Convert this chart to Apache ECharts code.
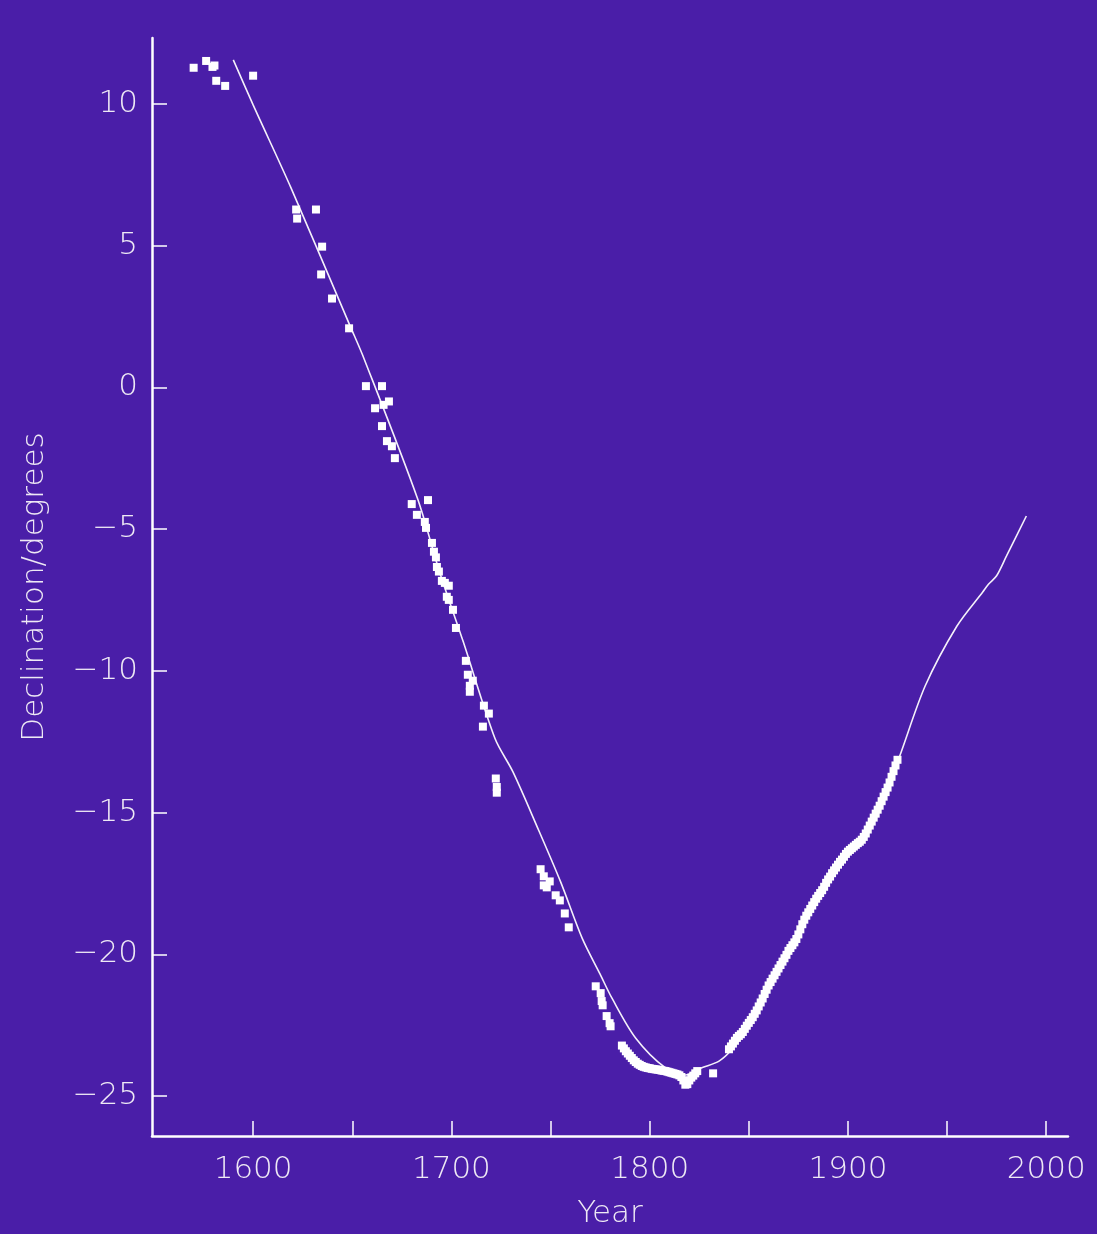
<!DOCTYPE html>
<html>
<head>
<meta charset="utf-8">
<script src="https://cdn.jsdelivr.net/npm/echarts@6/dist/echarts.min.js"></script>
<style>
html,body{margin:0;padding:0;background:#4a1ea8;}
#chart{width:1097px;height:1234px;}
</style>
</head>
<body>
<div id="chart"></div>
<script>
// ---- Data ----
const xTickValues = [1600, 1650, 1700, 1750, 1800, 1850, 1900, 1950, 2000];
const xLabelValues = [1600, 1700, 1800, 1900, 2000];
const yTickValues = [10, 5, 0, -5, -10, -15, -20, -25];

// Modelled declination curve
const lineYears = [1590, 1600, 1619, 1649, 1656, 1683, 1694, 1706, 1722, 1731, 1743, 1755, 1766, 1775, 1781, 1793, 1808, 1818, 1826, 1835, 1842, 1850, 1860, 1870, 1880, 1890, 1900, 1910, 1920, 1926, 1939, 1955, 1968, 1971, 1975, 1980, 1990];
const lineDecs  = [11.55, 9.96, 7.05, 2.15, 1.0, -3.94, -6.51, -8.98, -12.39, -13.56, -15.46, -17.43, -19.44, -20.7, -21.55, -22.96, -24.01, -24.26, -24.01, -23.77, -23.31, -22.45, -21.1, -19.88, -18.52, -17.36, -16.38, -15.6, -14.12, -13.03, -10.53, -8.42, -7.22, -6.94, -6.65, -5.95, -4.54];

// Observations
const obsYears = [
  1570, 1576.3, 1579.5, 1580.5, 1581.4, 1585.9, 1600, 1621.7, 1622.2, 1631.7, 1634.8, 1634.3, 1639.8, 1648.4,
  1656.9, 1665, 1661.5, 1668.5, 1665.8, 1665, 1667.5, 1670, 1671.5, 1688.2, 1680, 1682.6, 1686.6, 1687.2,
  1690.2, 1691.2, 1692.2, 1692.7, 1693.7, 1695.2, 1696.7, 1698.7, 1697.7, 1698.7, 1700.8, 1702.3, 1707.3,
  1708.3, 1710.8, 1709.3, 1709.3, 1716.4, 1718.9, 1715.9, 1722.4, 1722.9, 1722.9,
  1745, 1746.6, 1749.6, 1746.6, 1748.1, 1752.6, 1754.7, 1757.2, 1759.2,
  1772.8, 1775.3, 1775.8, 1776.3, 1778.3, 1779.8, 1780.3,
  1786, 1787, 1788, 1789, 1790, 1791, 1792, 1793, 1794, 1795, 1796, 1797, 1798, 1799, 1800,
  1801, 1802, 1803, 1804, 1805, 1806, 1807, 1808, 1809, 1810, 1811, 1812, 1813, 1814, 1815,
  1816, 1817, 1818, 1819, 1820, 1821, 1822, 1823, 1824, 1832,
  1840, 1841, 1842, 1843, 1844, 1845, 1846, 1847, 1848, 1849, 1850,
  1851, 1852, 1853, 1854, 1855, 1856, 1857, 1858, 1859, 1860,
  1861, 1862, 1863, 1864, 1865, 1866, 1867, 1868, 1869, 1870,
  1871, 1872, 1873, 1874, 1875, 1876, 1877, 1878, 1879, 1880,
  1881, 1882, 1883, 1884, 1885, 1886, 1887, 1888, 1889, 1890,
  1891, 1892, 1893, 1894, 1895, 1896, 1897, 1898, 1899, 1900,
  1901, 1902, 1903, 1904, 1905, 1906, 1907, 1908, 1909, 1910,
  1911, 1912, 1913, 1914, 1915, 1916, 1917, 1918, 1919, 1920,
  1921, 1922, 1923, 1924, 1925
];
const obsDecs = [
  11.27, 11.51, 11.30, 11.35, 10.81, 10.63, 10.99, 6.27, 5.95, 6.27, 4.96, 3.98, 3.13, 2.08,
  0.04, 0.04, -0.74, -0.5, -0.62, -1.37, -1.9, -2.08, -2.5, -3.98, -4.12, -4.5, -4.75, -4.96,
  -5.49, -5.8, -6.0, -6.34, -6.5, -6.83, -6.9, -7.0, -7.39, -7.5, -7.85, -8.49, -9.65,
  -10.14, -10.35, -10.53, -10.74, -11.23, -11.51, -11.97, -13.8, -14.1, -14.3,
  -17.0, -17.25, -17.43, -17.57, -17.64, -17.92, -18.1, -18.56, -19.05,
  -21.13, -21.37, -21.65, -21.8, -22.18, -22.43, -22.54,
  -23.22, -23.32, -23.42, -23.50, -23.58, -23.66, -23.74, -23.80, -23.86, -23.90, -23.94, -23.97, -23.99, -24.01, -24.02,
  -24.04, -24.05, -24.06, -24.07, -24.08, -24.10, -24.11, -24.12, -24.14, -24.16, -24.18, -24.20, -24.22, -24.24, -24.27,
  -24.33, -24.45, -24.60, -24.58, -24.45, -24.35, -24.28, -24.20, -24.12, -24.20,
  -23.35, -23.25, -23.15, -23.05, -22.95, -22.88, -22.82, -22.74, -22.63, -22.52, -22.42,
  -22.32, -22.22, -22.10, -21.98, -21.84, -21.70, -21.56, -21.40, -21.25, -21.10,
  -20.98, -20.86, -20.74, -20.62, -20.50, -20.38, -20.26, -20.14, -20.02, -19.88,
  -19.78, -19.68, -19.58, -19.46, -19.30, -19.12, -18.94, -18.78, -18.64, -18.52,
  -18.40, -18.28, -18.16, -18.04, -17.94, -17.84, -17.74, -17.62, -17.48, -17.36,
  -17.26, -17.14, -17.04, -16.94, -16.84, -16.74, -16.66, -16.56, -16.46, -16.38,
  -16.32, -16.26, -16.20, -16.14, -16.08, -16.03, -15.96, -15.86, -15.74, -15.60,
  -15.46, -15.32, -15.18, -15.04, -14.90, -14.76, -14.60, -14.44, -14.28, -14.12,
  -13.94, -13.74, -13.54, -13.34, -13.14
];

// ---- Chart ----
const textColor = '#eee9f5';
const fontFamily = "'DejaVu Sans', sans-serif";
const chart = echarts.init(document.getElementById('chart'), null, {renderer: 'canvas'});
chart.setOption({
  animation: false,
  backgroundColor: '#4a1ea8',
  grid: {left: 152, right: 29, top: 38, bottom: 96, containLabel: false},
  xAxis: {
    type: 'value', min: 1549, max: 2011,
    name: 'Year', nameLocation: 'middle', nameGap: 62,
    nameTextStyle: {color: textColor, fontSize: 31, fontFamily: fontFamily, fontWeight: 200},
    axisLine: {show: true, onZero: false, lineStyle: {color: '#ffffff', width: 2.5}},
    axisTick: {show: true, inside: true, length: 15, customValues: xTickValues, lineStyle: {color: '#ffffff', width: 1.5}},
    axisLabel: {show: true, customValues: xLabelValues, margin: 18, color: textColor, fontSize: 31, fontFamily: fontFamily, fontWeight: 200,
      formatter: v => String(v)},
    splitLine: {show: false}
  },
  yAxis: {
    type: 'value', min: -26.41, max: 12.32,
    name: 'Declination/degrees', nameLocation: 'middle', nameRotate: 90, nameGap: 102,
    nameTextStyle: {color: textColor, fontSize: 31, fontFamily: fontFamily, fontWeight: 200},
    axisLine: {show: true, onZero: false, lineStyle: {color: '#ffffff', width: 2.5}},
    axisTick: {show: true, inside: true, length: 15, customValues: yTickValues, lineStyle: {color: '#ffffff', width: 1.5}},
    axisLabel: {show: true, customValues: yTickValues, margin: 14, color: textColor, fontSize: 31, fontFamily: fontFamily, fontWeight: 200,
      formatter: v => (v < 0 ? '\u2212' + Math.abs(v) : String(v))},
    splitLine: {show: false}
  },
  series: [
    {
      type: 'line',
      data: lineYears.map((y, i) => [y, lineDecs[i]]),
      showSymbol: false,
      smooth: 0.3,
      lineStyle: {color: '#f4f0fa', width: 1.6},
      z: 2
    },
    {
      type: 'scatter',
      data: obsYears.map((y, i) => [y, obsDecs[i]]),
      symbol: 'rect',
      symbolSize: 8,
      itemStyle: {color: '#ffffff', opacity: 1},
      z: 3
    }
  ]
});
</script>
</body>
</html>
